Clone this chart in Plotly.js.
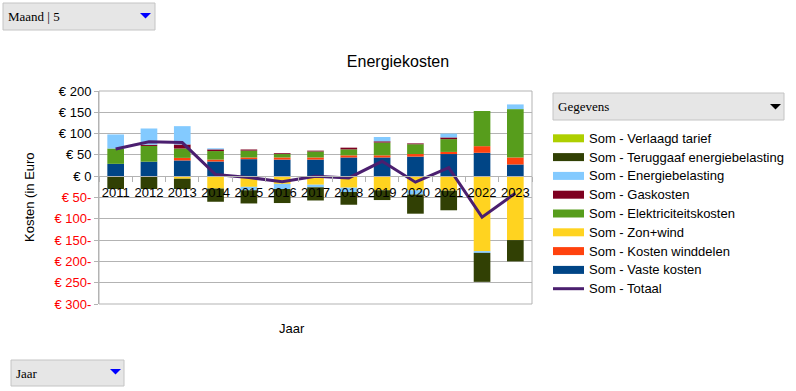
<!DOCTYPE html>
<html><head><meta charset="utf-8">
<script src="https://cdn.plot.ly/plotly-3.0.1.min.js"></script>
<style>body{margin:0;background:#fff;} #chart{width:796px;height:391px;}</style>
</head><body><div id="chart"></div>
<script>
// ---- data ----
const years = ['2011','2012','2013','2014','2015','2016','2017','2018','2019','2020','2021','2022','2023'];
const verlaagdTarief   = [0,0,0,0,0,0,0,0,0,0,0,0,0];
const teruggaaf        = [-30,-30,-24,-31,-31,-33,-31,-30,-23,-45,-46,-68,-50];
const energiebelasting = [33,38,43,2.5,-8,-12,-6,-10,10,-10,9,-4,11];
const gaskosten        = [0,3,9.5,4,2.7,2,2,4,3,2,4,0,0];
const elektriciteit    = [36,37,22,20,16,8,14,14,30,23,30,82.5,113.5];
const zonWind          = [0,0,-6,-29,-25,-18,-20,-27,-33,-33,-34,-176,-150];
const winddelen        = [0,0,6,4.5,4,5,5,5,5,6,5,15.5,16.5];
const vasteKosten      = [29,34,37,34.5,40,39,39,44,44,46,52,55,27.5];
const totaal           = [64,81,79,4,-3,-13,0,-4,35,-14,20,-96,-40];
const yTickVals = [200,150,100,50,0,-50,-100,-150,-200,-250,-300];

// legend order (top to bottom)
const series = [
  {name:'Som - Verlaagd tarief', data:verlaagdTarief, color:'#aecf00'},
  {name:'Som - Teruggaaf energiebelasting', data:teruggaaf, color:'#314004'},
  {name:'Som - Energiebelasting', data:energiebelasting, color:'#83caff'},
  {name:'Som - Gaskosten', data:gaskosten, color:'#7e0021'},
  {name:'Som - Elektriciteitskosten', data:elektriciteit, color:'#579d1c'},
  {name:'Som - Zon+wind', data:zonWind, color:'#ffd320'},
  {name:'Som - Kosten winddelen', data:winddelen, color:'#ff420e'},
  {name:'Som - Vaste kosten', data:vasteKosten, color:'#004586'}
];
const totaalSeries = {name:'Som - Totaal', data:totaal, color:'#4b1f6f'};
// stacking order (bottom first)
const stackOrder = [7,6,5,4,3,2,1,0];

// ---- geometry helpers (pixel -> paper) ----
const L=99, R=532, T=91, B=304, W=796, H=391;
const px = x => (x-L)/(R-L);
const py = y => (B-y)/(B-T);

const traces = stackOrder.map(i => ({
  type:'bar', x:years, y:series[i].data, name:series[i].name,
  marker:{color:series[i].color, line:{width:0}}, showlegend:false, hoverinfo:'skip'
}));
traces.push({type:'scatter', mode:'lines', x:years, y:totaalSeries.data, name:totaalSeries.name,
  line:{color:totaalSeries.color, width:3}, showlegend:false, hoverinfo:'skip'});

const tickText = yTickVals.map(v => v>=0 ? '€ '+v : '<span style="color:#ff0000">€ '+(-v)+'-</span>');

const shapes = [
  {type:'rect', xref:'paper', yref:'paper', x0:0, x1:1, y0:0, y1:1, line:{color:'#b3b3b3', width:1}, layer:'above'}
];
const annotations = [];

// buttons
function button(x0,y0,x1,y1,label,triColor,tx0,tx1,ty0,ty1){
  shapes.push({type:'rect', xref:'paper', yref:'paper', x0:px(x0), x1:px(x1), y0:py(y1), y1:py(y0),
    fillcolor:'#e6e6e6', line:{color:'#c4c4c4', width:1}});
  shapes.push({type:'path', xref:'paper', yref:'paper',
    path:'M '+px(tx0)+','+py(ty0)+' L '+px(tx1)+','+py(ty0)+' L '+px((tx0+tx1)/2)+','+py(ty1)+' Z',
    fillcolor:triColor, line:{color:triColor, width:0}});
  annotations.push({xref:'paper', yref:'paper', x:px(x0+3), y:py((y0+y1)/2), xanchor:'left', yanchor:'middle',
    text:label, showarrow:false, font:{family:'Liberation Serif', size:13, color:'#000'}});
}
button(3,3,155,30,'Maand | 5','#0000ff',140,151,13,18.5);
button(553,93,784,120,'Gegevens','#000000',770,781,104,109.5);
button(11,360,124,386,'Jaar','#0000ff',110,121,369,374.5);

// legend
const legendItems = series.concat([totaalSeries]);
legendItems.forEach((s,k) => {
  const cy = 138.3 + k*18.8;
  if (k < series.length) {
    shapes.push({type:'rect', xref:'paper', yref:'paper', x0:px(553), x1:px(584), y0:py(cy+4), y1:py(cy-4),
      fillcolor:s.color, line:{width:0}});
  } else {
    shapes.push({type:'line', xref:'paper', yref:'paper', x0:px(553), x1:px(584), y0:py(cy), y1:py(cy),
      line:{color:s.color, width:3}});
  }
  annotations.push({xref:'paper', yref:'paper', x:px(587), y:py(cy), xanchor:'left', yanchor:'middle',
    text:s.name, showarrow:false, font:{size:13, color:'#000'}});
});

// axis titles
annotations.push({xref:'paper', yref:'paper', x:px(292), y:py(328), xanchor:'center', yanchor:'middle',
  text:'Jaar', showarrow:false, font:{size:13, color:'#000'}});
annotations.push({xref:'paper', yref:'paper', x:px(29), y:py(197), xanchor:'center', yanchor:'middle',
  text:'Kosten (in Euro', textangle:-90, showarrow:false, font:{size:13, color:'#000'}});

const layout = {
  width:W, height:H,
  margin:{l:L, r:W-R, t:T, b:H-B, pad:0},
  paper_bgcolor:'#fff', plot_bgcolor:'#fff',
  font:{family:'Liberation Sans', size:13, color:'#000'},
  title:{text:'Energiekosten', x:0.5, xref:'container', xanchor:'center',
    y:1-61/H, yref:'container', yanchor:'middle', font:{size:16, color:'#000'}},
  barmode:'relative', bargap:0.5,
  showlegend:false,
  xaxis:{type:'category', anchor:'free', position:0.6, showline:true, linecolor:'#b3b3b3', linewidth:1,
    ticks:'outside', tickson:'boundaries', ticklen:5, tickcolor:'#b3b3b3', showgrid:false, zeroline:false,
    tickangle:0, ticklabelstandoff:4, tickfont:{size:13, color:'#000'}, fixedrange:true},
  yaxis:{range:[-300,200], tickvals:yTickVals, ticktext:tickText, showline:true, linecolor:'#b3b3b3',
    ticks:'outside', ticklen:4, tickcolor:'#b3b3b3', gridcolor:'#b3b3b3', zeroline:false,
    tickfont:{size:13, color:'#000'}, fixedrange:true},
  shapes:shapes, annotations:annotations
};
Plotly.newPlot('chart', traces, layout, {displayModeBar:false, staticPlot:true});
</script>
</body></html>
